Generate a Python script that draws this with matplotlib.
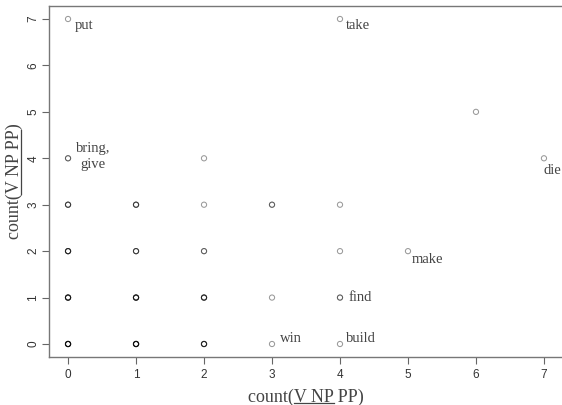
import matplotlib
matplotlib.use("Agg")
import matplotlib.pyplot as plt
import numpy as np
from matplotlib.lines import Line2D
from matplotlib.transforms import IdentityTransform

# counts of verbs per (V NP PP, V NP) cell; darker rings = more verbs stacked
np_pp = [0, 1, 2, 3, 4, 0, 1, 2, 3, 4, 0, 1, 2, 4, 5, 0, 1, 2, 3, 4, 0, 2, 7, 6, 0, 4]
np_only = [0, 0, 0, 0, 0, 1, 1, 1, 1, 1, 2, 2, 2, 2, 2, 3, 3, 3, 3, 3, 4, 4, 4, 5, 7, 7]
n_verbs = [6, 6, 4, 1, 1, 5, 5, 4, 1, 2, 4, 3, 2, 1, 1, 3, 3, 1, 2, 1, 2, 1, 1, 1, 1, 1]

labels = ["put", "take", "bring,\ngive", "die", "make", "find", "win", "build"]
label_x = [0, 4, 0, 7, 5, 4, 3, 4]
label_y = [7, 7, 4, 4, 2, 1, 0, 0]
# offsets in points and alignment per label
label_off = [(5, -5), (4, -5), (18, 1), (0, -9), (3, -6), (6, 0), (6, 4), (4, 4)]
label_ha = ["left", "left", "center", "left", "left", "left", "left", "left"]

x = np.repeat(np_pp, n_verbs)
y = np.repeat(np_only, n_verbs)

fig = plt.figure(figsize=(5.62, 4.05), dpi=100)
ax = fig.add_axes([49 / 562, 48 / 405, 514 / 562, 351 / 405])

ax.scatter(x, y, s=14, facecolors="none", edgecolors="black", linewidths=0.75, alpha=0.4)

for lab, lx, ly, off, ha in zip(labels, label_x, label_y, label_off, label_ha):
    ax.annotate(lab, (lx, ly), xytext=off, textcoords="offset points",
                ha=ha, va="center", family="Liberation Serif", fontsize=10.5,
                color="#444444", linespacing=1.3, annotation_clip=False)

ax.set_xlim(-0.28, 7.28)
ax.set_ylim(-0.28, 7.28)
ax.set_xticks(range(8))
ax.set_yticks(range(8))
for lbl in ax.get_yticklabels():
    lbl.set_rotation(90)
    lbl.set_va("center")
ax.tick_params(length=5, width=0.8, color="#666666", labelsize=8.5, labelcolor="#333333", pad=4)
ax.tick_params(axis="y", pad=2)
for t in ax.get_xticklabels() + ax.get_yticklabels():
    t.set_family("Liberation Sans")
for s in ax.spines.values():
    s.set_color("#777777")
    s.set_linewidth(1.0)

xl = ax.set_xlabel("count(V NP PP)", family="Liberation Serif", fontsize=13, color="#444444", labelpad=5)
yl = ax.set_ylabel("count(V NP PP)", family="Liberation Serif", fontsize=13, color="#444444", labelpad=3)

# underline parts of the axis labels
fig.canvas.draw()
r = fig.canvas.get_renderer()
prop = xl.get_fontproperties()
def tw(s):
    return r.get_text_width_height_descent(s, prop, ismath=False)

bb = xl.get_window_extent(r)
_, _, d = tw("count(V NP PP)")
base = bb.y0 + d - 1.5
x0 = bb.x0 + tw("count(")[0]
x1 = bb.x0 + tw("count(V NP")[0]
fig.add_artist(Line2D([x0, x1], [base, base], transform=IdentityTransform(), color="#444444", lw=0.9))

bb = yl.get_window_extent(r)
basex = bb.x1 - d + 1.5
y0 = bb.y0 + tw("count(")[0]
y1 = bb.y0 + tw("count(V NP PP")[0]
fig.add_artist(Line2D([basex, basex], [y0, y1], transform=IdentityTransform(), color="#444444", lw=0.9))

fig.savefig("out.png", dpi=100)
